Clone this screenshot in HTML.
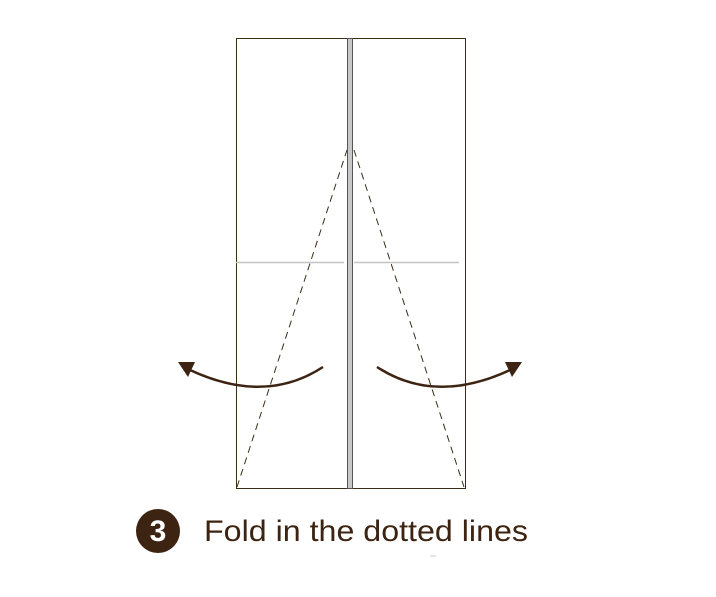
<!DOCTYPE html>
<html><head><meta charset="utf-8"><style>
body{margin:0;background:#fff;width:716px;height:592px;overflow:hidden}
</style></head><body>
<svg width="716" height="592" viewBox="0 0 716 592">
<rect x="236.5" y="38.5" width="229" height="450" fill="none" stroke="#3a2e14" stroke-width="1"/>
<line x1="236" y1="262.5" x2="344" y2="262.5" stroke="#c4c4c4" stroke-width="1.5"/>
<line x1="354" y1="262.5" x2="459" y2="262.5" stroke="#c4c4c4" stroke-width="1.5"/>
<line x1="237" y1="487" x2="347" y2="150" stroke="#3a2e14" stroke-width="1" stroke-dasharray="7,5"/>
<line x1="354" y1="150" x2="464" y2="487" stroke="#3a2e14" stroke-width="1" stroke-dasharray="7,5"/>
<rect x="347.5" y="38.5" width="5" height="450" fill="#c8c8c8" stroke="#555" stroke-width="1"/>
<path d="M323,367 Q265,405 190,370" fill="none" stroke="#3d2412" stroke-width="2.5"/>
<polygon points="178,362 195,362 188,377" fill="#3d2412"/>
<path d="M377,367 Q435,405 510,370" fill="none" stroke="#3d2412" stroke-width="2.5"/>
<polygon points="522,362 505,362 512,377" fill="#3d2412"/>
<circle cx="158" cy="531" r="22" fill="#3d2412"/>
<text x="158" y="541" text-anchor="middle" font-family="Liberation Sans, sans-serif" font-weight="bold" font-size="30" fill="#fff">3</text>
<text x="204" y="541" font-family="Liberation Sans, sans-serif" font-size="30" fill="#3d2412" textLength="324" lengthAdjust="spacingAndGlyphs">Fold in the dotted lines</text>
<line x1="430" y1="556" x2="436" y2="556" stroke="#ccc" stroke-width="1"/>
</svg>
</body></html>
